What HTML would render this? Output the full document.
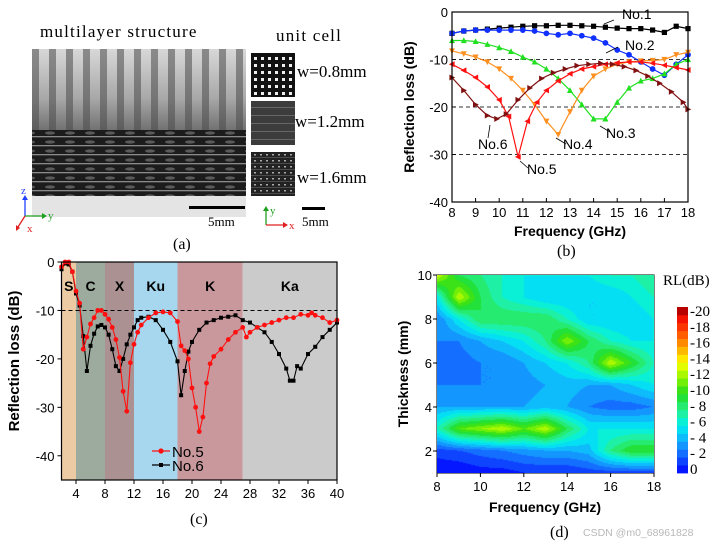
<!DOCTYPE html>
<html><head><meta charset="utf-8">
<style>
html,body{margin:0;padding:0;background:#fff;}
#root{position:relative;width:728px;height:543px;overflow:hidden;font-family:"Liberation Sans",sans-serif;}
svg text{font-family:"Liberation Sans",sans-serif;}
.serif{font-family:"Liberation Serif",serif !important;}
#heat{position:absolute;left:437px;top:275px;}
</style></head>
<body>
<div id="root">
<svg id="svg" width="728" height="543" style="position:absolute;left:0;top:0">
<defs>
<linearGradient id="topg" x1="0" y1="0" x2="0" y2="1">
<stop offset="0" stop-color="#d8d8d8"/><stop offset="0.6" stop-color="#a8a8a8"/><stop offset="1" stop-color="#707070"/>
</linearGradient>
<pattern id="stripes" width="17" height="80" patternUnits="userSpaceOnUse" x="32">
<rect x="0" y="0" width="7" height="80" fill="#4a4a4a" opacity="0.55"/>
</pattern>
<pattern id="layers" width="20" height="9" patternUnits="userSpaceOnUse" y="130">
<rect width="20" height="9" fill="#1c1c1c"/><rect y="6" width="20" height="1.3" fill="#8a8a8a"/>
<ellipse cx="10" cy="3" rx="5" ry="1.6" fill="#5a5a5a"/>
</pattern>
<pattern id="dots" width="7" height="7" patternUnits="userSpaceOnUse" x="252" y="55">
<rect width="7" height="7" fill="#111"/><rect x="2" y="2" width="3" height="3" fill="#eee"/>
</pattern>
<pattern id="hstr" width="10" height="8" patternUnits="userSpaceOnUse" y="101">
<rect width="10" height="8" fill="#3c3c3c"/><rect y="6" width="10" height="1" fill="#666"/>
</pattern>
<pattern id="dots2" width="6" height="6" patternUnits="userSpaceOnUse" x="252" y="152">
<rect width="6" height="6" fill="#222"/><rect x="2" y="2" width="2" height="1.5" fill="#aaa"/><rect y="5" width="6" height="0.8" fill="#555"/>
</pattern>
</defs>

<!-- Panel (a) -->
<g>
<text x="40" y="37" class="serif" font-size="17" letter-spacing="1.2">multilayer structure</text>
<text x="276" y="41" class="serif" font-size="17" letter-spacing="1.2">unit cell</text>
<g>
<rect x="32" y="49" width="214" height="82" fill="url(#topg)"/>
<rect x="32" y="49" width="214" height="82" fill="url(#stripes)"/>
<rect x="32" y="130" width="214" height="66" fill="url(#layers)"/>
<rect x="32" y="196" width="214" height="21" fill="#e4e4e4"/>
<rect x="189" y="206" width="56" height="3" fill="#000"/>
<text x="208" y="226" class="serif" font-size="13">5mm</text>
</g>
<rect x="251" y="53" width="44" height="44" fill="url(#dots)"/>
<rect x="251" y="101" width="44" height="44" fill="url(#hstr)"/>
<rect x="251" y="152" width="44" height="44" fill="url(#dots2)"/>
<text x="297" y="77" class="serif" font-size="17">w=0.8mm</text>
<text x="295" y="127" class="serif" font-size="17">w=1.2mm</text>
<text x="297" y="183" class="serif" font-size="17">w=1.6mm</text>
<rect x="302" y="207" width="23" height="3" fill="#000"/>
<text x="302" y="226" class="serif" font-size="13">5mm</text>
<g>
<line x1="25" y1="216" x2="25" y2="198" stroke="#2040ff" stroke-width="1.3"/><polygon points="22,200 28,200 25,195" fill="#2040ff"/>
<text x="21" y="194" font-size="11" fill="#2040ff" class="serif">z</text>
<line x1="25" y1="216" x2="43" y2="216" stroke="#20a020" stroke-width="1.3"/><polygon points="42,213 42,219 47,216" fill="#20a020"/>
<text x="48" y="219" font-size="11" fill="#20a020" class="serif">y</text>
<line x1="25" y1="216" x2="18" y2="227" stroke="#e02020" stroke-width="1.3"/><polygon points="16,225 20,228 16,231" fill="#e02020"/>
<text x="27" y="232" font-size="11" fill="#e02020" class="serif">x</text>
</g>
<g>
<line x1="266" y1="225" x2="266" y2="209" stroke="#20a020" stroke-width="1.3"/><polygon points="263,211 269,211 266,206" fill="#20a020"/>
<text x="270" y="214" font-size="11" fill="#20a020" class="serif">y</text>
<line x1="266" y1="225" x2="284" y2="225" stroke="#e02020" stroke-width="1.3"/><polygon points="283,222 283,228 288,225" fill="#e02020"/>
<text x="289" y="229" font-size="11" fill="#e02020" class="serif">x</text>
</g>
<text x="173" y="249" class="serif" font-size="16">(a)</text>
</g>

<g id="pb"></g>
<g id="pc"></g>
<g id="pd"></g>
</svg>
<canvas id="heat" width="217" height="198"></canvas>
</div>
<script>
// ---------- Panel (b) data ----------
const bF1 = [8,8.5,9,9.5,10,10.5,11,11.5,12,12.5,13,13.5,14,14.5,15,15.5,16,16.5,17,17.5,18];
const bNo1 = [-4.5,-4,-3.8,-3.6,-3.4,-3.2,-3,-2.9,-2.9,-2.8,-2.8,-2.9,-3,-3.2,-3.4,-3.5,-3.5,-3.8,-4.3,-3,-3.5];
const bNo2 = [-4.5,-4,-3.8,-3.8,-3.8,-3.8,-3.8,-4,-4.5,-4.8,-4.5,-5,-5.5,-6.5,-8,-9,-10.5,-12,-13.3,-11,-9];
const bNo3 = [-6,-6,-6.2,-6.8,-7.5,-8.3,-9.5,-10.5,-12,-14,-16.5,-19.5,-22.5,-22.5,-19,-16,-14.5,-14,-13,-11,-10];
const bNo4 = [-8.2,-8.8,-9.5,-10.5,-12,-14,-16.5,-19.5,-23,-25.8,-21,-16.5,-13.5,-12,-11,-10.5,-10.3,-10.2,-10,-9,-8.5];
const bF5 = [8,8.5,9,9.5,10,10.4,10.8,11.2,11.6,12,12.5,13,13.5,14,14.5,15,15.5,16,16.5,17,17.5,18];
const bNo5 = [-11,-12.3,-13.8,-15.8,-18.5,-22,-30.5,-23,-19,-16.5,-14.5,-13,-12,-11.5,-11,-10.7,-10.5,-10.5,-10.8,-11.2,-11.7,-12.2];
const bF6 = [8,8.5,9,9.5,9.9,10.3,10.8,11.3,11.8,12.3,12.8,13.3,13.8,14.3,14.8,15.3,15.8,16.3,16.8,17.3,17.8,18];
const bNo6 = [-13.8,-16.5,-19.5,-21.8,-22.5,-21.5,-18.5,-16,-14,-12.8,-12,-11.3,-11,-10.8,-11,-11.5,-12.3,-13.5,-15,-16.8,-19,-20.5];
const bXTicks = [8,9,10,11,12,13,14,15,16,17,18];
const bYTicks = [0,-10,-20,-30,-40];

// ---------- Panel (c) data ----------
const cF5 = [2,2.5,3,3.5,4,4.5,5,5.5,6,6.5,7,7.5,8,8.5,9,9.5,10,10.5,11,11.5,12,12.5,13,14,15,16,17,18,18.5,19,19.5,20,20.5,21,21.5,22,22.5,23,24,25,26,27,27.5,28,29,30,31,32,33,34,35,36,36.5,37,38,39,40];
const cNo5 = [-1,0,0,-2,-6,-8.5,-18,-15.5,-12.8,-11.5,-10,-10,-10.8,-11.8,-13.5,-16,-19.7,-26.7,-30.8,-20.8,-17,-14.5,-13,-11.5,-10.5,-10.3,-10.5,-12.3,-17.3,-18.3,-20,-26,-30,-35,-32,-25,-21,-19.5,-18,-16,-14.5,-13.5,-15.5,-14.5,-13.5,-13,-12.5,-12,-11.5,-11.5,-10.8,-11,-10.5,-11,-11.5,-12.5,-12];
const cF6 = [2,2.5,3,3.5,4,4.5,5,5.5,6,6.5,7,7.5,8,8.5,9,9.5,10,10.5,11,11.5,12,12.5,13,14,15,16,17,18,18.5,19,19.5,20,21,22,23,24,25,26,27,28,29,30,31,32,33,33.5,34,34.5,35,36,37,38,39,40];
const cNo6 = [-1.5,-0.3,-0.5,-2,-6.5,-9,-15.3,-22.5,-17.3,-14.8,-13.3,-13,-13.5,-15,-18,-21.5,-22.5,-20,-17,-15,-13.5,-12,-11.5,-11.3,-12,-14,-16.5,-20.5,-27.5,-22.5,-18.5,-16.5,-14,-12.5,-12,-11.5,-11.3,-11,-12,-12.5,-13.5,-14.5,-16.5,-19,-22,-24.5,-24.5,-21.5,-22,-19,-17.5,-15.5,-14,-12.5];
const cBandNames = ["S","C","X","Ku","K","Ka"];
const cBandStart = [2,4,8,12,18,27];
const cBandEnd = [4,8,12,18,27,40];
const cXTicks = [4,8,12,16,20,24,28,32,36,40];
const cYTicks = [0,-10,-20,-30,-40];

// ---------- Panel (d) data ----------
const dFreq = [8,9,10,11,12,13,14,15,16,17,18];
const dThick = [1,2,3,4,5,6,7,8,9,10];
const dRL = [ // magnitude of RL (dB), rows = thickness 1..10
 [0,0,0.5,0.5,1,1,1,1.5,1.5,1.5,1.5],
 [1.5,2,2.5,3,3.5,4,4,4.5,8,10,10],
 [7,11,12,13,11,13,9,6,6,6,6],
 [4,4,4,4,4,4.5,4,3,2.5,2.5,3],
 [3,3,3,3,3.5,4,4.5,4,4,5,6],
 [2.5,2.5,3,3,4,5,6,8,13,10,7],
 [3,3,4,5,6,8,12,9,7,6,6],
 [3,6,9,9,9,9,7,5,5,5,6],
 [6,13,9,7,6,5,5,5,5,6,7],
 [13,9,8,7,6,6,6,6,7,7,8]
];
const dXTicks = [8,10,12,14,16,18];
const dYTicks = [2,4,6,8,10];
const dLevels = [0,2,4,6,8,10,12,14,16,18,20];

const NS = "http://www.w3.org/2000/svg";
function mk(parent, tag, attrs, text){
  const e = document.createElementNS(NS, tag);
  for (const k in attrs) e.setAttribute(k, attrs[k]);
  if (text !== undefined) e.textContent = text;
  parent.appendChild(e);
  return e;
}
function marker(g, shape, x, y, col){
  const s = 2.6;
  let el;
  if (shape === "sq") el = mk(g,"rect",{x:x-s,y:y-s,width:2*s,height:2*s,fill:col});
  else if (shape === "ci") el = mk(g,"circle",{cx:x,cy:y,r:s+0.3,fill:col});
  else {
    let p;
    if (shape === "up") p = [[x,y-s-0.6],[x-s-0.4,y+s],[x+s+0.4,y+s]];
    if (shape === "dn") p = [[x,y+s+0.6],[x-s-0.4,y-s],[x+s+0.4,y-s]];
    if (shape === "lf") p = [[x-s-0.6,y],[x+s,y-s-0.4],[x+s,y+s+0.4]];
    if (shape === "rt") p = [[x+s+0.6,y],[x-s,y-s-0.4],[x-s,y+s+0.4]];
    el = mk(g,"polygon",{points:p.map(q=>q.join(",")).join(" "),fill:col});
  }
  
  
}

// ===== Panel (b) =====
(function(){
  const g = document.getElementById("pb");
  const X0=452, X1=688, Y0=12, Y1=202;
  const xs = f => X0 + (f-8)/10*(X1-X0);
  const ys = v => Y0 + (-v)/40*(Y1-Y0);
  [-10,-20,-30].forEach(v=>{
    const l = mk(g,"line",{x1:X0,x2:X1,y1:ys(v),y2:ys(v),stroke:"#333","stroke-dasharray":"4,3","stroke-width":1});
    
    
  });
  const series = [
    [bF1,bNo1,"#000","sq","series-no1"],
    [bF1,bNo2,"#1030ff","ci","series-no2"],
    [bF1,bNo3,"#20e020","up","series-no3"],
    [bF1,bNo4,"#ff9020","dn","series-no4"],
    [bF5,bNo5,"#ff1010","lf","series-no5"],
    [bF6,bNo6,"#801010","rt","series-no6"]
  ];
  series.forEach(s=>{
    const sg = mk(g,"g",{});
    
    
    const d = s[0].map((f,i)=>(i?"L":"M")+xs(f).toFixed(1)+","+ys(s[1][i]).toFixed(1)).join("");
    mk(sg,"path",{d:d,fill:"none",stroke:s[2],"stroke-width":1.2});
    s[0].forEach((f,i)=>marker(sg,s[3],xs(f),ys(s[1][i]),s[2]));
  });
  const fr = mk(g,"rect",{x:X0,y:Y0,width:X1-X0,height:Y1-Y0,fill:"none",stroke:"#000","stroke-width":1.2});
  
  
  bXTicks.forEach(t=>{
    mk(g,"line",{x1:xs(t),x2:xs(t),y1:Y1,y2:Y1-4,stroke:"#000"});
    const tx = mk(g,"text",{x:xs(t),y:Y1+15,"font-size":13,"text-anchor":"middle"},String(t));
    
    
  });
  bYTicks.forEach(t=>{
    mk(g,"line",{x1:X0,x2:X0+4,y1:ys(t),y2:ys(t),stroke:"#000"});
    const tx = mk(g,"text",{x:X0-4,y:ys(t)+5,"font-size":13,"text-anchor":"end"},String(t));
    
    
  });
  const xt = mk(g,"text",{x:(X0+X1)/2,y:236,"font-size":14,"font-weight":"bold","text-anchor":"middle"},"Frequency (GHz)");
  
  
  const yt = mk(g,"text",{x:0,y:0,"font-size":14,"font-weight":"bold","text-anchor":"middle",transform:"translate(414,"+((Y0+Y1)/2)+") rotate(-90)"},"Reflection loss (dB)");
  
  
  const pl = mk(g,"text",{x:557,y:256,"font-size":16,"class":"serif"},"(b)");
  
  
  const labels = [["No.1",622,19,604,24,614,20],["No.2",625,50,606,53,618,47],["No.3",606,138,600,126,610,132],["No.4",563,149,556,138,566,144],["No.5",527,174,520,161,528,168],["No.6",478,149,490,125,488,138]];
  labels.forEach(l=>{
    mk(g,"line",{x1:l[3],y1:l[4],x2:l[5],y2:l[6],stroke:"#000","stroke-width":0.8});
    const t = mk(g,"text",{x:l[1],y:l[2],"font-size":14},l[0]);
    
    
  });
})();

// ===== Panel (c) =====
(function(){
  const g = document.getElementById("pc");
  const X0=61.5, X1=337, Y0=262, Y1=480;
  const xs = f => X0 + (f-2)/38*(X1-X0);
  const ys = v => Y0 + (-v)/45*(Y1-Y0);
  const bandCols = ["#eccba4","#9cab9e","#ab9192","#a6d7ef","#c8989d","#cbcbcb"];
  cBandNames.forEach((n,i)=>{
    const r = mk(g,"rect",{x:xs(cBandStart[i]),y:Y0,width:xs(cBandEnd[i])-xs(cBandStart[i]),height:Y1-Y0,fill:bandCols[i]});
    
    
    const t = mk(g,"text",{x:(xs(cBandStart[i])+xs(cBandEnd[i]))/2,y:Y0+29,"font-size":14,"font-weight":"bold","text-anchor":"middle"},n);
    
    
  });
  const rl = mk(g,"line",{x1:X0,x2:X1,y1:ys(-10),y2:ys(-10),stroke:"#000","stroke-dasharray":"4,3"});
  
  
  [[cF6,cNo6,"#000","sq","series-no6"],[cF5,cNo5,"#ff1010","ci","series-no5"]].forEach(s=>{
    const sg = mk(g,"g",{});
    
    
    const d = s[0].map((f,i)=>(i?"L":"M")+xs(f).toFixed(1)+","+ys(s[1][i]).toFixed(1)).join("");
    mk(sg,"path",{d:d,fill:"none",stroke:s[2],"stroke-width":1.1});
    s[0].forEach((f,i)=>{
      const e = s[3]==="sq" ? mk(sg,"rect",{x:xs(f)-2,y:ys(s[1][i])-2,width:4,height:4,fill:s[2]}) : mk(sg,"circle",{cx:xs(f),cy:ys(s[1][i]),r:2.4,fill:s[2]});
      
      
    });
  });
  const fr = mk(g,"rect",{x:X0,y:Y0,width:X1-X0,height:Y1-Y0,fill:"none",stroke:"#000","stroke-width":1.2});
  
  
  cXTicks.forEach(t=>{
    mk(g,"line",{x1:xs(t),x2:xs(t),y1:Y1,y2:Y1+4,stroke:"#000"});
    const tx = mk(g,"text",{x:xs(t),y:Y1+18,"font-size":13,"text-anchor":"middle"},String(t));
    
    
  });
  cYTicks.forEach(t=>{
    mk(g,"line",{x1:X0-4,x2:X0,y1:ys(t),y2:ys(t),stroke:"#000"});
    const tx = mk(g,"text",{x:X0-7,y:ys(t)+5,"font-size":13,"text-anchor":"end"},String(t));
    
    
  });
  const yt = mk(g,"text",{x:0,y:0,"font-size":15,"font-weight":"bold","text-anchor":"middle",transform:"translate(19,361) rotate(-90)"},"Reflection loss (dB)");
  
  
  const pl = mk(g,"text",{x:190,y:524,"font-size":16,"class":"serif"},"(c)");
  
  
  const lg = mk(g,"g",{});
  
  
  mk(lg,"line",{x1:152,x2:170,y1:451,y2:451,stroke:"#ff1010","stroke-width":1.2});
  mk(lg,"circle",{cx:161,cy:451,r:2.6,fill:"#ff1010"});
  mk(lg,"text",{x:172,y:457,"font-size":15},"No.5");
  mk(lg,"line",{x1:152,x2:170,y1:465,y2:465,stroke:"#000","stroke-width":1.2});
  mk(lg,"rect",{x:159,y:463,width:4,height:4,fill:"#000"});
  mk(lg,"text",{x:172,y:471,"font-size":15},"No.6");
})();

// ===== Panel (d) =====
const stopV = [0,2,4,6,8,10,12,14,16,18,20,21];
const stopC = [[0,0,255],[20,90,255],[20,170,255],[0,240,240],[40,240,140],[30,220,30],[140,245,0],[255,255,0],[255,160,0],[255,70,0],[240,0,0],[130,0,0]];
function colorOf(v){
  v = Math.max(0,Math.min(20.5,v));
  let i=0; while(i<stopV.length-2 && v>stopV[i+1]) i++;
  const t=(v-stopV[i])/(stopV[i+1]-stopV[i]);
  return stopC[i].map((c,k)=>Math.round(c+(stopC[i+1][k]-c)*t));
}
(function(){
  const g = document.getElementById("pd");
  const X0=437, X1=654, Y0=275, Y1=473;
  const xs = f => X0 + (f-8)/10*(X1-X0);
  const ys = t => Y1 - (t-1)/9*(Y1-Y0);
  const cv = document.getElementById("heat");
  const ctx = cv.getContext("2d");
  const W=cv.width, H=cv.height;
  const img = ctx.createImageData(W,H);
  for (let py=0; py<H; py++){
    const t = 10 - py/(H-1)*9;
    let r = t-1; let r0=Math.min(Math.floor(r),dThick.length-2); let fr=r-r0;
    for (let px=0; px<W; px++){
      const f = 8 + px/(W-1)*10;
      let c = (f-8); let c0=Math.min(Math.floor(c),dFreq.length-2); let fc=c-c0;
      const v = dRL[r0][c0]*(1-fr)*(1-fc)+dRL[r0][c0+1]*(1-fr)*fc+dRL[r0+1][c0]*fr*(1-fc)+dRL[r0+1][c0+1]*fr*fc;
      const q = Math.floor(v);
      const col = colorOf(q+0.5);
      const k=(py*W+px)*4;
      img.data[k]=col[0];img.data[k+1]=col[1];img.data[k+2]=col[2];img.data[k+3]=255;
    }
  }
  ctx.putImageData(img,0,0);
  const fr = mk(g,"rect",{x:X0,y:Y0,width:X1-X0,height:Y1-Y0,fill:"none",stroke:"#000","stroke-width":1});
  
  
  dXTicks.forEach(t=>{
    mk(g,"line",{x1:xs(t),x2:xs(t),y1:Y1,y2:Y1+4,stroke:"#000"});
    const tx = mk(g,"text",{x:xs(t),y:Y1+18,"font-size":13,"text-anchor":"middle"},String(t));
    
    
  });
  dYTicks.forEach(t=>{
    mk(g,"line",{x1:X0-4,x2:X0,y1:ys(t),y2:ys(t),stroke:"#000"});
    const tx = mk(g,"text",{x:X0-5,y:ys(t)+5,"font-size":13,"text-anchor":"end"},String(t));
    
    
  });
  const xt = mk(g,"text",{x:545,y:512,"font-size":14,"font-weight":"bold","text-anchor":"middle"},"Frequency (GHz)");
  
  
  const yt = mk(g,"text",{x:0,y:0,"font-size":14,"font-weight":"bold","text-anchor":"middle",transform:"translate(408,374) rotate(-90)"},"Thickness (mm)");
  
  
  const pl = mk(g,"text",{x:550,y:537,"font-size":16,"class":"serif"},"(d)");
  
  
  const wm = mk(g,"text",{x:583,y:536,"font-size":10.5,fill:"#b8b8b8"},"CSDN @m0_68961828");
  
  
  const cb = mk(g,"g",{});
  
  
  const cbT=307, cbB=473, n=21, h=(cbB-cbT)/n;
  for (let i=0;i<n;i++){
    const col = colorOf(i+0.5);
    mk(cb,"rect",{x:677,y:cbB-(i+1)*h,width:11,height:h+0.4,fill:"rgb("+col.join(",")+")"});
  }
  dLevels.forEach(v=>{
    const t = mk(cb,"text",{x:690,y:cbB-(v+0.5)*h+5,"font-size":15,"class":"serif"},v===0?" 0":(v<10?"- "+v:"-"+v));
    
    
  });
  const ct = mk(g,"text",{x:663,y:285,"font-size":15,"class":"serif"},"RL(dB)");
  
  
})();
</script>
</body></html>
